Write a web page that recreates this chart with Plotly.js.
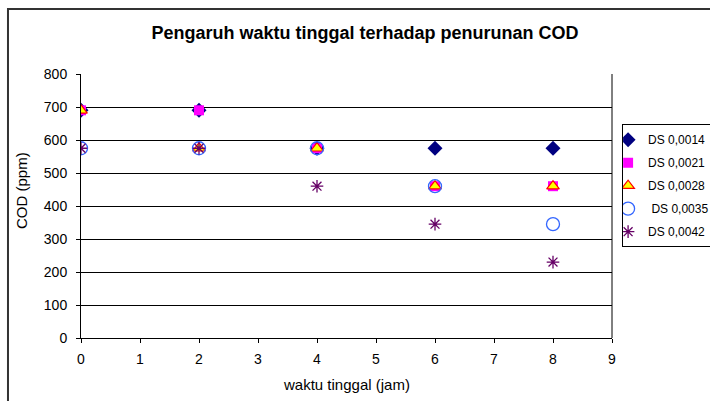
<!DOCTYPE html>
<html>
<head>
<meta charset="utf-8">
<script src="https://cdn.plot.ly/plotly-3.0.1.min.js"></script>
<style>
html,body{margin:0;padding:0;background:#fff;}
#chart{width:710px;height:401px;}
</style>
</head>
<body>
<div id="chart"></div>
<script>
const waktu = [0, 2, 4, 6, 8];
const ds0014 = [690, 690, 575, 575, 575];
const ds0021 = [690, 690, 575, 460, 460];
const ds0028 = [690, 575, 575, 460, 460];
const ds0035 = [575, 575, 575, 460, 345];
const ds0042 = [575, 575, 460, 345, 230];
const seriesNames = ['DS 0,0014', 'DS 0,0021', 'DS 0,0028', ' DS 0,0035', 'DS 0,0042'];
const xTitle = 'waktu tinggal (jam)';
const yTitle = 'COD (ppm)';
const chartTitle = 'Pengaruh waktu tinggal terhadap penurunan COD';

const traces = [
  {x: waktu, y: ds0014, name: seriesNames[0], legendgroup: 'a', mode: 'markers', type: 'scatter',
   marker: {symbol: 'diamond', size: 11.5, color: '#000080'}},
  {x: waktu, y: ds0021, name: seriesNames[1], legendgroup: 'b', mode: 'markers', type: 'scatter',
   marker: {symbol: 'square', size: 10, color: '#FF00FF'}},
  {x: waktu, y: ds0028, name: seriesNames[2], legendgroup: 'c', mode: 'markers', type: 'scatter',
   marker: {symbol: 'triangle-up', size: 11, color: '#FFFF00', line: {color: '#FF0000', width: 1.2}}},
  {x: waktu, y: ds0035, name: seriesNames[3], legendgroup: 'd', mode: 'markers', type: 'scatter',
   marker: {symbol: 'circle-open', size: 13, color: '#3366FF', line: {width: 1.3}}},
  {x: waktu, y: ds0042, name: seriesNames[4], legendgroup: 'e', mode: 'markers', type: 'scatter',
   marker: {symbol: 'asterisk-open', size: 10.5, color: '#660066', line: {color: '#660066', width: 1.3}}}
];

const font = 'Arial, "Liberation Sans", sans-serif';
const layout = {
  width: 710, height: 401,
  margin: {l: 81, r: 98, t: 74, b: 63, autoexpand: false},
  paper_bgcolor: '#fff', plot_bgcolor: '#fff',
  font: {family: font, size: 13, color: '#000'},
  title: {text: '<b>' + chartTitle + '</b>',
          font: {family: font, size: 18, color: '#000'},
          x: 0.535, xref: 'paper', xanchor: 'center', y: 0.918, yref: 'container', yanchor: 'middle'},
  xaxis: {range: [0, 9], dtick: 1, tick0: 0, showgrid: false, zeroline: false,
          showline: true, linecolor: '#000', linewidth: 1,
          ticks: 'outside', ticklen: 4, tickcolor: '#000', ticklabelstandoff: 4,
          tickfont: {size: 14}},
  yaxis: {range: [0, 800], dtick: 100, tick0: 0, showgrid: true, gridcolor: '#000', gridwidth: 1,
          zeroline: false, showline: true, linecolor: '#000', linewidth: 1,
          ticks: 'outside', ticklen: 4, tickcolor: '#000', ticklabelstandoff: 6,
          tickfont: {size: 14}},
  annotations: [
    {text: xTitle, xref: 'paper', yref: 'paper', x: 0.5, y: -0.178, xanchor: 'center', yanchor: 'middle',
     showarrow: false, font: {size: 15}},
    {text: yTitle, xref: 'paper', yref: 'paper', x: -0.111, y: 0.557, xanchor: 'center', yanchor: 'middle',
     textangle: -90, showarrow: false, font: {size: 15}}
  ],
  legend: {x: 1.019, xref: 'paper', xanchor: 'left', y: 0.81, yanchor: 'top',
           bordercolor: '#000', borderwidth: 1, bgcolor: '#fff',
           font: {family: font, size: 12, color: '#000'},
           tracegroupgap: 4, traceorder: 'grouped', indentation: -15, itemwidth: 30},
  showlegend: true,
  shapes: [
    {type: 'line', xref: 'paper', yref: 'paper', x0: 1, x1: 1, y0: 0, y1: 1, line: {color: '#000', width: 1}},
    {type: 'rect', xref: 'paper', yref: 'paper', x0: -0.1375, x1: 1.4, y0: -0.35, y1: 1.246,
     line: {color: '#333', width: 2}, fillcolor: 'rgba(0,0,0,0)', layer: 'below'}
  ]
};

Plotly.newPlot('chart', traces, layout, {displayModeBar: false, staticPlot: true});
</script>
</body>
</html>
